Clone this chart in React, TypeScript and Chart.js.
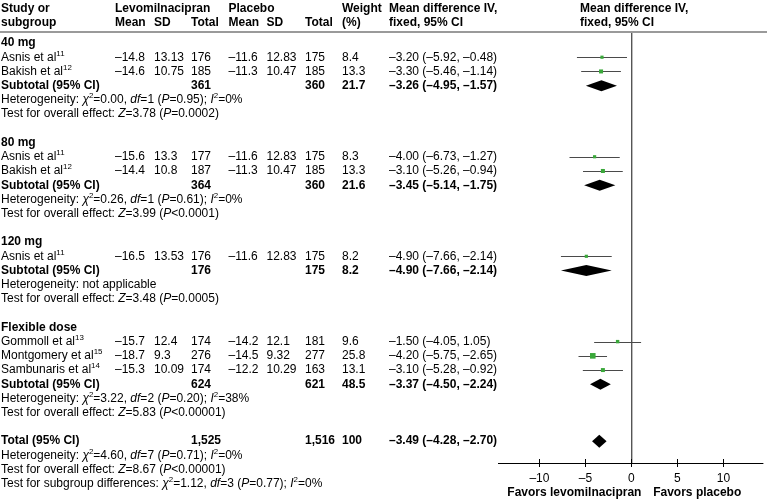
import { useEffect, useRef } from 'react';
import { Chart, registerables } from 'chart.js';

Chart.register(...registerables);

// ---------- data ----------
const GROUPS = ['40 mg', '80 mg', '120 mg', 'Flexible dose'];

const STUDIES = ['Asnis et al', 'Bakish et al', 'Asnis et al', 'Bakish et al', 'Asnis et al', 'Gommoll et al', 'Montgomery et al', 'Sambunaris et al'];
const STUDY_REFS = ['11', '12', '11', '12', '11', '13', '15', '14'];
const STUDY_GROUP = [0, 0, 1, 1, 2, 3, 3, 3];

const LEVO_MEAN = [-14.8, -14.6, -15.6, -14.4, -16.5, -15.7, -18.7, -15.3];
const LEVO_SD = ['13.13', '10.75', '13.3', '10.8', '13.53', '12.4', '9.3', '10.09'];
const LEVO_N = [176, 185, 177, 187, 176, 174, 276, 174];

const PLAC_MEAN = [-11.6, -11.3, -11.6, -11.3, -11.6, -14.2, -14.5, -12.2];
const PLAC_SD = ['12.83', '10.47', '12.83', '10.47', '12.83', '12.1', '9.32', '10.29'];
const PLAC_N = [175, 185, 175, 185, 175, 181, 277, 163];

const WEIGHT = [8.4, 13.3, 8.3, 13.3, 8.2, 9.6, 25.8, 13.1];
const MD = [-3.2, -3.3, -4.0, -3.1, -4.9, -1.5, -4.2, -3.1];
const MD_LO = [-5.92, -5.46, -6.73, -5.26, -7.66, -4.05, -5.75, -5.28];
const MD_HI = [-0.48, -1.14, -1.27, -0.94, -2.14, 1.05, -2.65, -0.92];

const SUB_LEVO_N = ['361', '364', '176', '624'];
const SUB_PLAC_N = ['360', '360', '175', '621'];
const SUB_WEIGHT = ['21.7', '21.6', '8.2', '48.5'];
const SUB_MD = [-3.26, -3.45, -4.9, -3.37];
const SUB_LO = [-4.95, -5.14, -7.66, -4.5];
const SUB_HI = [-1.57, -1.75, -2.14, -2.24];

const HET_CHI = ['0.00', '0.26', '', '3.22'];
const HET_DF = ['1', '1', '', '2'];
const HET_P = ['0.95', '0.61', '', '0.20'];
const HET_I2 = ['0', '0', '', '38'];
const EFFECT_Z = ['3.78', '3.99', '3.48', '5.83'];
const EFFECT_P = ['=0.0002', '<0.0001', '=0.0005', '<0.00001'];

const TOTAL_LEVO_N = '1,525';
const TOTAL_PLAC_N = '1,516';
const TOTAL_WEIGHT = '100';
const TOTAL_MD = [-3.49, -4.28, -2.7];
const TOTAL_HET = ['4.60', '7', '0.71', '0'];
const TOTAL_EFFECT = ['8.67', '<0.00001'];
const SUBGROUP_DIFF = ['1.12', '3', '0.77', '0'];

const AXIS_TICKS = [-10, -5, 0, 5, 10];
const X_MIN = -14.5;
const X_MAX = 14.3;
const FAVORS_LEFT = 'Favors levomilnacipran';
const FAVORS_RIGHT = 'Favors placebo';

// ---------- layout / style ----------
const W = 767;
const H = 502;
const ROW0 = 43;
const ROW_STEP = 14.22;
const TOP_Y = 32;
const AXIS_Y = 463;
const FONT = '"Liberation Sans", Arial, Helvetica, sans-serif';
const FS = 12;
const GREEN = '#3aa83a';
const COLS = { study: 1, lMean: 115, lSd: 154, lN: 191, pMean: 228.5, pSd: 266.5, pN: 305, w: 342, md: 389, plotHdr: 580 };

const dash = (v: number, d?: number) => {
  const s = d === undefined ? String(Math.abs(v)) : Math.abs(v).toFixed(d);
  return (v < 0 ? '\u2013' : '') + s;
};
const ci = (m: number, lo: number, hi: number) => `${dash(m, 2)} (${dash(lo, 2)}, ${dash(hi, 2)})`;
const het = (chi: string, df: string, p: string, i2: string) =>
  `Heterogeneity: _\u03C7_^{2}=${chi}, _df_=${df} (_P_=${p}); _I_^{2}=${i2}%`;

type Row = { k: number; type: string; i?: number; text?: string };

const ROWS: Row[] = [];
const STUDY_K: number[] = [];
const SUB_K: number[] = [];
let TOTAL_K = 0;
(() => {
  let k = 0;
  GROUPS.forEach((g, gi) => {
    ROWS.push({ k: k++, type: 'group', text: g });
    STUDY_GROUP.forEach((sg, si) => {
      if (sg === gi) {
        STUDY_K[si] = k;
        ROWS.push({ k: k++, type: 'study', i: si });
      }
    });
    SUB_K[gi] = k;
    ROWS.push({ k: k++, type: 'sub', i: gi });
    ROWS.push({
      k: k++,
      type: 'note',
      text: HET_CHI[gi] ? het(HET_CHI[gi], HET_DF[gi], HET_P[gi], HET_I2[gi]) : 'Heterogeneity: not applicable',
    });
    ROWS.push({ k: k++, type: 'note', text: `Test for overall effect: _Z_=${EFFECT_Z[gi]} (_P_${EFFECT_P[gi]})` });
    k++;
  });
  TOTAL_K = k;
  ROWS.push({ k: k++, type: 'total' });
  ROWS.push({ k: k++, type: 'note', text: het(TOTAL_HET[0], TOTAL_HET[1], TOTAL_HET[2], TOTAL_HET[3]) });
  ROWS.push({ k: k++, type: 'note', text: `Test for overall effect: _Z_=${TOTAL_EFFECT[0]} (_P_${TOTAL_EFFECT[1]})` });
  ROWS.push({
    k: k++,
    type: 'note',
    text: `Test for subgroup differences: _\u03C7_^{2}=${SUBGROUP_DIFF[0]}, _df_=${SUBGROUP_DIFF[1]} (_P_=${SUBGROUP_DIFF[2]}); _I_^{2}=${SUBGROUP_DIFF[3]}%`,
  });
})();

function drawRich(ctx: CanvasRenderingContext2D, str: string, x: number, y: number, bold = false, align = 'left') {
  const parts = str.split(/(_[^_]+_|\^\{[^}]+\})/).filter(Boolean);
  const segs = parts.map((p) => {
    if (p.length > 2 && p.startsWith('_') && p.endsWith('_')) return { t: p.slice(1, -1), it: true, sup: false };
    if (p.startsWith('^{')) return { t: p.slice(2, -1), it: false, sup: true };
    return { t: p, it: false, sup: false };
  });
  const fontOf = (s: any) => `${s.it ? 'italic ' : ''}${bold ? 'bold ' : ''}${s.sup ? FS * 0.66 : FS}px ${FONT}`;
  let total = 0;
  segs.forEach((s) => {
    ctx.font = fontOf(s);
    total += ctx.measureText(s.t).width;
  });
  let cx = align === 'center' ? x - total / 2 : x;
  ctx.textAlign = 'left';
  ctx.textBaseline = 'middle';
  segs.forEach((s) => {
    ctx.font = fontOf(s);
    ctx.fillText(s.t, cx, s.sup ? y - FS * 0.32 : y);
    cx += ctx.measureText(s.t).width;
  });
}

const forestPlugin = {
  id: 'forest',
  beforeDatasetsDraw(chart: any) {
    const { ctx, scales } = chart;
    const xs = scales.x;
    const ys = scales.y;
    ctx.save();
    // whiskers
    ctx.strokeStyle = '#4a4a4a';
    ctx.lineWidth = 1;
    STUDIES.forEach((_, i) => {
      const y = Math.round(ys.getPixelForValue(STUDY_K[i])) + 0.5;
      ctx.beginPath();
      ctx.moveTo(xs.getPixelForValue(MD_LO[i]), y);
      ctx.lineTo(xs.getPixelForValue(MD_HI[i]), y);
      ctx.stroke();
    });
    // diamonds
    const diamond = (m: number, lo: number, hi: number, k: number, hh: number) => {
      const y = ys.getPixelForValue(k);
      ctx.beginPath();
      ctx.moveTo(xs.getPixelForValue(lo), y);
      ctx.lineTo(xs.getPixelForValue(m), y - hh);
      ctx.lineTo(xs.getPixelForValue(hi), y);
      ctx.lineTo(xs.getPixelForValue(m), y + hh);
      ctx.closePath();
      ctx.fillStyle = '#000';
      ctx.fill();
    };
    GROUPS.forEach((_, gi) => diamond(SUB_MD[gi], SUB_LO[gi], SUB_HI[gi], SUB_K[gi], 5.5));
    diamond(TOTAL_MD[0], TOTAL_MD[1], TOTAL_MD[2], TOTAL_K, 6.5);
    ctx.restore();
  },
  afterDraw(chart: any) {
    const { ctx, scales } = chart;
    const xs = scales.x;
    const ys = scales.y;
    const rowY = (k: number) => ys.getPixelForValue(k);
    ctx.save();
    ctx.fillStyle = '#000';

    // header rule
    ctx.strokeStyle = '#9a9a9a';
    ctx.lineWidth = 2;
    ctx.beginPath();
    ctx.moveTo(0, TOP_Y);
    ctx.lineTo(W, TOP_Y);
    ctx.stroke();

    // axis tick marks crossing the axis
    ctx.strokeStyle = '#000';
    ctx.lineWidth = 1;
    xs.ticks.forEach((t: any, i: number) => {
      const x = Math.round(xs.getPixelForTick(i)) + 0.5;
      ctx.beginPath();
      ctx.moveTo(x, xs.top - 4);
      ctx.lineTo(x, xs.top + 4);
      ctx.stroke();
    });

    // headers
    const h1 = rowY(-2.4);
    const h2 = rowY(-1.45);
    drawRich(ctx, 'Study or', COLS.study, h1, true);
    drawRich(ctx, 'Levomilnacipran', COLS.lMean, h1, true);
    drawRich(ctx, 'Placebo', COLS.pMean, h1, true);
    drawRich(ctx, 'Weight', COLS.w, h1, true);
    drawRich(ctx, 'Mean difference IV,', COLS.md, h1, true);
    drawRich(ctx, 'Mean difference IV,', COLS.plotHdr, h1, true);
    drawRich(ctx, 'subgroup', COLS.study, h2, true);
    drawRich(ctx, 'Mean', COLS.lMean, h2, true);
    drawRich(ctx, 'SD', COLS.lSd, h2, true);
    drawRich(ctx, 'Total', COLS.lN, h2, true);
    drawRich(ctx, 'Mean', COLS.pMean, h2, true);
    drawRich(ctx, 'SD', COLS.pSd, h2, true);
    drawRich(ctx, 'Total', COLS.pN, h2, true);
    drawRich(ctx, '(%)', COLS.w, h2, true);
    drawRich(ctx, 'fixed, 95% CI', COLS.md, h2, true);
    drawRich(ctx, 'fixed, 95% CI', COLS.plotHdr, h2, true);

    ROWS.forEach((r) => {
      const y = rowY(r.k);
      if (r.type === 'group') {
        drawRich(ctx, r.text || '', COLS.study, y, true);
      } else if (r.type === 'study') {
        const i = r.i as number;
        drawRich(ctx, `${STUDIES[i]}^{${STUDY_REFS[i]}}`, COLS.study, y);
        drawRich(ctx, dash(LEVO_MEAN[i]), COLS.lMean, y);
        drawRich(ctx, LEVO_SD[i], COLS.lSd, y);
        drawRich(ctx, String(LEVO_N[i]), COLS.lN, y);
        drawRich(ctx, dash(PLAC_MEAN[i]), COLS.pMean, y);
        drawRich(ctx, PLAC_SD[i], COLS.pSd, y);
        drawRich(ctx, String(PLAC_N[i]), COLS.pN, y);
        drawRich(ctx, String(WEIGHT[i]), COLS.w, y);
        drawRich(ctx, ci(MD[i], MD_LO[i], MD_HI[i]), COLS.md, y);
      } else if (r.type === 'sub') {
        const i = r.i as number;
        drawRich(ctx, 'Subtotal (95% CI)', COLS.study, y, true);
        drawRich(ctx, SUB_LEVO_N[i], COLS.lN, y, true);
        drawRich(ctx, SUB_PLAC_N[i], COLS.pN, y, true);
        drawRich(ctx, SUB_WEIGHT[i], COLS.w, y, true);
        drawRich(ctx, ci(SUB_MD[i], SUB_LO[i], SUB_HI[i]), COLS.md, y, true);
      } else if (r.type === 'total') {
        drawRich(ctx, 'Total (95% CI)', COLS.study, y, true);
        drawRich(ctx, TOTAL_LEVO_N, COLS.lN, y, true);
        drawRich(ctx, TOTAL_PLAC_N, COLS.pN, y, true);
        drawRich(ctx, TOTAL_WEIGHT, COLS.w, y, true);
        drawRich(ctx, ci(TOTAL_MD[0], TOTAL_MD[1], TOTAL_MD[2]), COLS.md, y, true);
      } else {
        drawRich(ctx, r.text || '', COLS.study, y);
      }
    });

    // favors labels
    const fy = 493;
    drawRich(ctx, FAVORS_LEFT, xs.getPixelForValue(-6.2), fy, true, 'center');
    drawRich(ctx, FAVORS_RIGHT, xs.getPixelForValue(7.15), fy, true, 'center');
    ctx.restore();
  },
};

export default function App() {
  const ref = useRef<HTMLCanvasElement | null>(null);
  useEffect(() => {
    if (!ref.current) return;
    const yMin = (TOP_Y - ROW0) / ROW_STEP;
    const yMax = (AXIS_Y - ROW0) / ROW_STEP;
    const chart = new Chart(ref.current, {
      type: 'scatter',
      data: {
        datasets: [
          {
            data: MD.map((m, i) => ({ x: m, y: STUDY_K[i] })),
            pointStyle: 'rect',
            pointRadius: WEIGHT.map((w) => 0.78 * Math.sqrt(w)),
            backgroundColor: GREEN,
            borderWidth: 0,
          },
        ],
      },
      options: {
        animation: false,
        responsive: false,
        devicePixelRatio: 1,
        layout: { padding: { left: 498, right: 0, top: TOP_Y, bottom: 0 } },
        plugins: { legend: { display: false }, tooltip: { enabled: false } },
        scales: {
          x: {
            type: 'linear',
            min: X_MIN,
            max: X_MAX,
            afterFit: (s: any) => {
              s.height = H - AXIS_Y;
            },
            afterBuildTicks: (s: any) => {
              s.ticks = AXIS_TICKS.map((v) => ({ value: v }));
            },
            grid: {
              color: (c: any) => (c.tick && c.tick.value === 0 ? '#555' : 'rgba(0,0,0,0)'),
              lineWidth: 1.4,
              drawTicks: false,
            },
            border: { color: '#000', width: 1 },
            ticks: {
              padding: 8,
              color: '#000',
              autoSkip: false,
              maxRotation: 0,
              font: { family: FONT, size: FS },
              callback: (v: any) => dash(Number(v)),
            },
          },
          y: { type: 'linear', display: false, reverse: true, min: yMin, max: yMax },
        },
      },
      plugins: [forestPlugin],
    } as any);
    return () => chart.destroy();
  }, []);
  return (
    <div style={{ position: 'fixed', left: 0, top: 0, width: W, height: H, background: '#fff' }}>
      <canvas ref={ref} width={W} height={H} style={{ display: 'block', width: W, height: H }} />
    </div>
  );
}
